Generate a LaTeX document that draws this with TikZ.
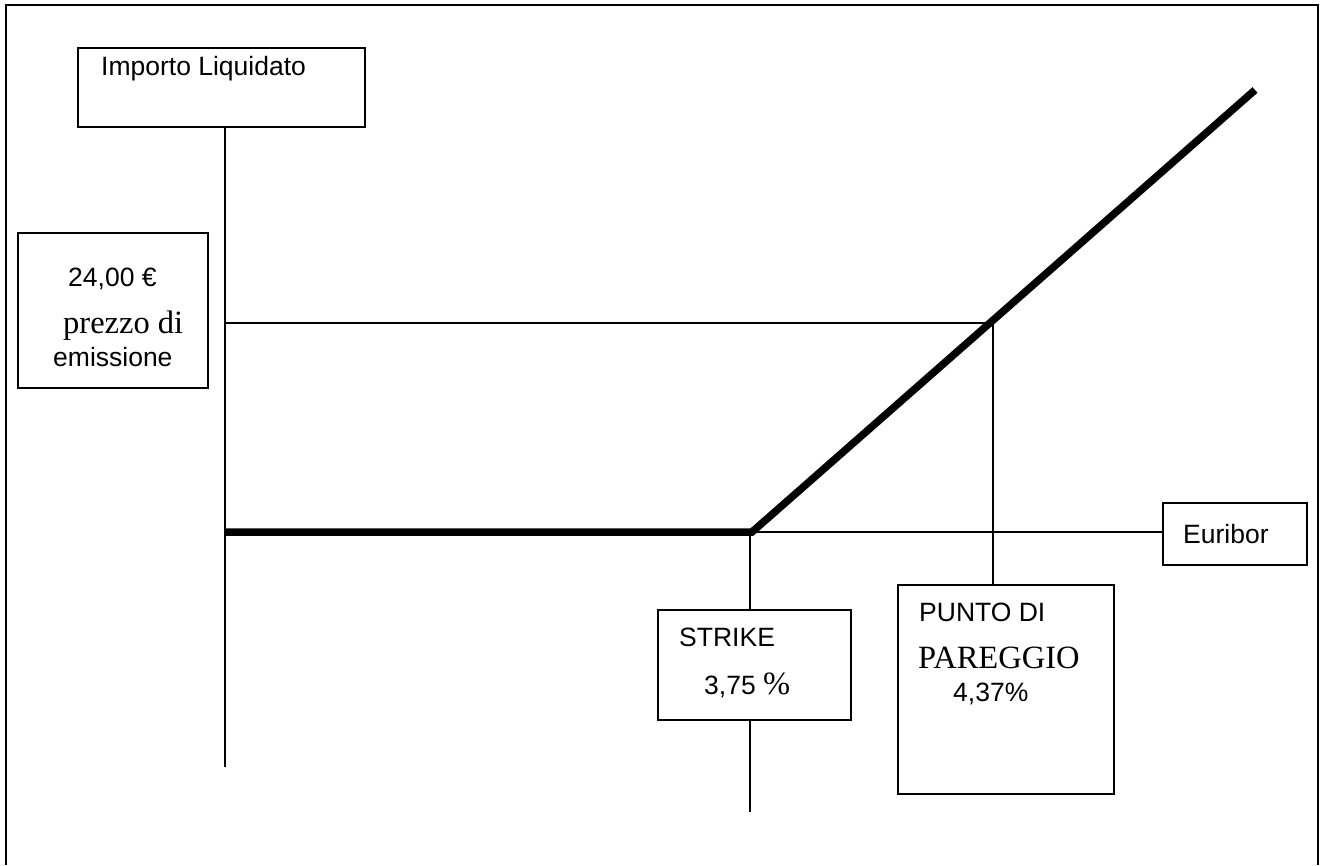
\documentclass[tikz,border=0pt]{standalone}
\usepackage{fontspec}
\setmainfont{Liberation Sans}
\newfontfamily\tnrfont{Liberation Serif}
\newcommand{\fsz}[1]{\fontsize{#1}{#1}\selectfont}
\usepackage{tikz}

\tikzset{
  box/.style={draw, line width=1.6pt, fill=white, inner sep=0pt, anchor=north west},
  txt/.style={inner sep=0pt, anchor=base west, font=\fsz{26.5}},
  rmtxt/.style={inner sep=0pt, anchor=base west, font=\tnrfont\fsz{32.5}},
  thin/.style={line width=1.5pt},
  payoff/.style={line width=7.5pt}
}

\begin{document}
\begin{tikzpicture}[x=1pt, y=-1pt]
    \useasboundingbox (0,0) rectangle (1320,865);
    % cornice
    \draw[line width=2.5pt] (6,865) -- (6,5) -- (1318,5) -- (1318,865);

    % linee di riferimento
    \coordinate (ax0) at (225,767);
    \coordinate (pe) at (225,323);
    \coordinate (pb) at (993,323);
    \coordinate (k) at (752,532);
    \coordinate (k0) at (225,532);
    \coordinate (kv) at (750,532);
    \coordinate (kb) at (750,812);
    \coordinate (top) at (1255,90);

    % riquadri
    \node[box, minimum width=287pt, minimum height=79pt] (importo) at (77,47) {};
    \node[box, minimum width=190pt, minimum height=155pt] (prezzo) at (17,232) {};
    \node[box, minimum width=193pt, minimum height=110pt] (strike) at (657,609) {};
    \node[box, minimum width=216pt, minimum height=209pt] (pareggio) at (897,584) {};
    \node[box, minimum width=144pt, minimum height=62pt] (euribor) at (1162,502) {};

    \draw[thin] (importo.south -| ax0) -- (ax0);
    \draw[thin] (pe) -- (pb);
    \draw[thin] (pb) -- (pb |- pareggio.north);
    \draw[thin] (k) -- (k -| euribor.west);
    \draw[thin] (kv) -- (strike.north -| kv);
    \draw[thin] (strike.south -| kb) -- (kb);

    % profilo
    \draw[payoff] (k0) -- (k) -- (top);

    % testi
    \node[txt] (timp) at (101,75) {Importo Liquidato};
    \node[txt] (tval) at (68,286) {24,00 €};
    \node[rmtxt] (tpre) at (63,333) {prezzo di};
    \node[txt] (temi) at (53,366) {emissione};
    \node[txt] (tstr) at (679,646) {STRIKE};
    \node[txt] (tstv) at (704,694) {3,75 {\tnrfont\fsz{32.5}\%}};
    \node[txt] (tpun) at (919,621) {PUNTO DI};
    \node[rmtxt] (tpar) at (918,668) {PAREGGIO};
    \node[txt] (tpav) at (953,701) {4,37\%};
    \node[txt] (teur) at (1183,543) {Euribor};
\end{tikzpicture}
\end{document}
